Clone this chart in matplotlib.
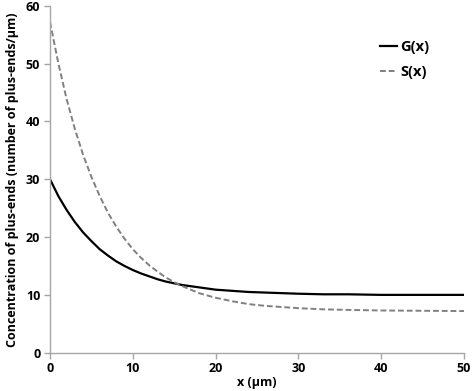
"""Concentration of plus-ends G(x) and S(x)"""

import matplotlib
matplotlib.use('Agg')
import matplotlib.pyplot as plt

x = [0, 1, 2, 3, 4, 5, 6, 7, 8, 9, 10, 11, 12, 13, 14, 15, 16, 17, 18, 19,
     20, 22, 24, 26, 28, 30, 33, 36, 40, 45, 50]
# G(x), solid black
g = [30.0, 27.1, 24.7, 22.6, 20.8, 19.3, 17.9, 16.8, 15.8, 15.0, 14.3, 13.7,
     13.2, 12.7, 12.3, 12.0, 11.7, 11.5, 11.3, 11.1, 10.9, 10.7, 10.5, 10.4,
     10.3, 10.2, 10.1, 10.1, 10.0, 10.0, 10.0]
# S(x), dashed grey
s = [57.2, 50.1, 43.9, 38.7, 34.2, 30.4, 27.1, 24.2, 21.8, 19.7, 17.9, 16.4,
     15.1, 14.0, 13.0, 12.2, 11.5, 10.9, 10.3, 9.9, 9.5, 8.9, 8.4, 8.1,
     7.9, 7.7, 7.5, 7.4, 7.3, 7.25, 7.2]

xticks = [0, 10, 20, 30, 40, 50]
yticks = [0, 10, 20, 30, 40, 50, 60]

plt.rcParams['font.family'] = ['Open Sans', 'DejaVu Sans']
plt.rcParams['font.weight'] = 'bold'

fig = plt.figure(figsize=(4.72, 3.91), dpi=100)
ax = fig.add_axes([0.106, 0.098, 0.877, 0.887])

ax.plot(x, g, color='black', lw=1.6, label='G(x)')
ax.plot(x, s, color='#808080', lw=1.4, ls=(0, (3, 1.5)), label='S(x)')

ax.set_xlim(0, 50)
ax.set_ylim(0, 60)
ax.set_xticks(xticks)
ax.set_yticks(yticks)
for sp in ['top', 'right']:
    ax.spines[sp].set_visible(False)
for sp in ['left', 'bottom']:
    ax.spines[sp].set_color('#a6a6a6')
    ax.spines[sp].set_linewidth(1.0)
ax.tick_params(colors='#a6a6a6', length=4, width=1.0, pad=3,
               labelcolor='black', labelsize=9)
for lab in ax.get_xticklabels() + ax.get_yticklabels():
    lab.set_fontweight('bold')

ax.set_xlabel('x (µm)', fontsize=9, fontweight='bold')
ax.xaxis.set_label_coords(0.5, -0.066)
ax.set_ylabel('Concentration of plus-ends (number of plus-ends/µm)',
              fontsize=9, fontweight='bold', labelpad=5)

ax.legend(loc='upper left', bbox_to_anchor=(0.765, 0.94), frameon=False,
          handlelength=1.2, handletextpad=0.2, labelspacing=0.75,
          prop={'size': 10.5, 'weight': 'bold'})

fig.savefig('out.png', dpi=100)
